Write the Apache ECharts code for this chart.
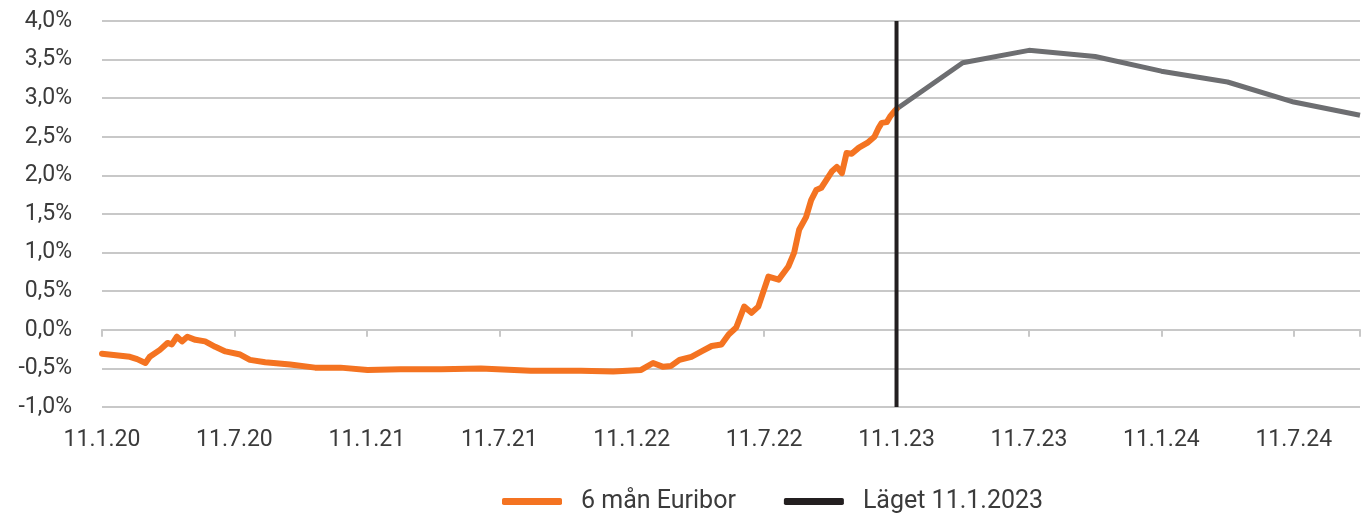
<!DOCTYPE html>
<html>
<head>
<meta charset="utf-8">
<script src="https://cdn.jsdelivr.net/npm/echarts@6/dist/echarts.min.js"></script>
<style>html,body{margin:0;padding:0;background:#fff;}#c{width:1367px;height:515px;}</style>
</head>
<body>
<div id="c"></div>
<script>
// 6-month Euribor (%)
const euriborDates = ["2020-01-11","2020-02-19","2020-02-29","2020-03-10","2020-03-16","2020-03-30","2020-04-10","2020-04-16","2020-04-23","2020-04-30","2020-05-07","2020-05-18","2020-06-01","2020-06-15","2020-06-29","2020-07-19","2020-08-02","2020-08-23","2020-09-27","2020-10-31","2020-12-05","2021-01-12","2021-02-27","2021-04-22","2021-06-16","2021-08-24","2021-11-02","2021-12-16","2022-01-24","2022-02-10","2022-02-24","2022-03-04","2022-03-16","2022-04-02","2022-04-16","2022-04-30","2022-05-13","2022-05-23","2022-06-03","2022-06-14","2022-06-24","2022-07-03","2022-07-17","2022-07-31","2022-08-14","2022-08-22","2022-08-29","2022-09-08","2022-09-15","2022-09-22","2022-09-29","2022-10-13","2022-10-20","2022-10-27","2022-11-03","2022-11-10","2022-11-20","2022-12-01","2022-12-11","2022-12-17","2022-12-21","2022-12-28","2023-01-02","2023-01-08","2023-01-11"];
const euriborValues = [-0.31,-0.35,-0.38,-0.43,-0.35,-0.26,-0.17,-0.19,-0.09,-0.15,-0.09,-0.13,-0.15,-0.22,-0.28,-0.32,-0.39,-0.42,-0.45,-0.49,-0.49,-0.52,-0.51,-0.51,-0.50,-0.53,-0.53,-0.54,-0.52,-0.43,-0.48,-0.47,-0.39,-0.35,-0.28,-0.21,-0.19,-0.06,0.03,0.30,0.22,0.30,0.69,0.65,0.82,1.00,1.30,1.46,1.68,1.81,1.84,2.05,2.11,2.03,2.29,2.28,2.36,2.42,2.50,2.62,2.68,2.69,2.76,2.83,2.86];
// Forecast (grey line)
const forecastDates = ["2023-01-11","2023-04-11","2023-07-11","2023-10-11","2024-01-11","2024-04-11","2024-07-11","2024-10-11"];
const forecastValues = [2.86,3.46,3.62,3.54,3.35,3.21,2.95,2.78];
// Marker "Läget 11.1.2023"
const markerDate = "2023-01-11";
const yTicks = [-1.0,-0.5,0.0,0.5,1.0,1.5,2.0,2.5,3.0,3.5,4.0];
const xStart = "2020-01-11";
const xEnd = "2024-10-11";

function monthIndex(s){
  const [y,m,d] = s.split("-").map(Number);
  return (y-2020)*12 + (m-1) + (d-11)/30.44;
}
function xLabel(v){
  const mi = Math.round(v);
  const y = 2020 + Math.floor(mi/12);
  const m = mi%12 + 1;
  return "11." + m + "." + String(y).slice(2);
}
const fmtPct = v => v.toFixed(1).replace(".", ",") + "%";

const euriborData = euriborDates.map((d,i)=>[monthIndex(d), euriborValues[i]]);
const forecastData = forecastDates.map((d,i)=>[monthIndex(d), forecastValues[i]]);
const mx = monthIndex(markerDate);
const markerData = [[mx, yTicks[0]], [mx, yTicks[yTicks.length-1]]];

const font = "Roboto";
const txt = "#3b3b3b";
const chart = echarts.init(document.getElementById("c"));
const xCommon = {
  type: "value", min: monthIndex(xStart), max: monthIndex(xEnd), interval: 6,
  position: "bottom", splitLine: {show:false}
};
chart.setOption({
  animation: false,
  grid: {left: 102, right: 7, top: 21, bottom: 108},
  legend: {
    left: 497, top: 484,
    data: ["6 mån Euribor", "Läget 11.1.2023"],
    icon: "roundRect", itemWidth: 60, itemHeight: 7, itemGap: 48,
    textStyle: {fontFamily: font, fontSize: 25, color: txt, padding: [0,0,0,14]}
  },
  xAxis: [
    Object.assign({}, xCommon, {
      axisLine: {show:false, onZero:false}, axisTick: {show:false},
      axisLabel: {fontFamily: font, fontSize: 23, color: txt, margin: 22, formatter: xLabel}
    }),
    Object.assign({}, xCommon, {
      axisLine: {show:true, onZero:true, lineStyle:{color:"#c8c8c8", width:2}},
      axisTick: {show:true, length:7, lineStyle:{color:"#c8c8c8", width:2}},
      axisLabel: {show:false}
    })
  ],
  yAxis: {
    type: "value", min: yTicks[0], max: yTicks[yTicks.length-1], interval: 0.5,
    axisLine: {show:false}, axisTick: {show:false},
    splitLine: {lineStyle: {color: "#c8c8c8", width: 2}},
    axisLabel: {fontFamily: font, fontSize: 23, color: txt, margin: 30, formatter: fmtPct}
  },
  series: [
    {name: "Prognos", type: "line", data: forecastData, symbol: "none",
     lineStyle: {color: "#6d6e71", width: 5}, itemStyle:{color:"#6d6e71"}, z: 2},
    {name: "6 mån Euribor", type: "line", data: euriborData, symbol: "none",
     lineStyle: {color: "#f47321", width: 6, join: "round", cap: "round"}, itemStyle:{color:"#f47321"}, z: 3},
    {name: "Läget 11.1.2023", type: "line", data: markerData, symbol: "none",
     lineStyle: {color: "#231f20", width: 4}, itemStyle:{color:"#231f20"}, z: 4}
  ]
});
</script>
</body>
</html>
